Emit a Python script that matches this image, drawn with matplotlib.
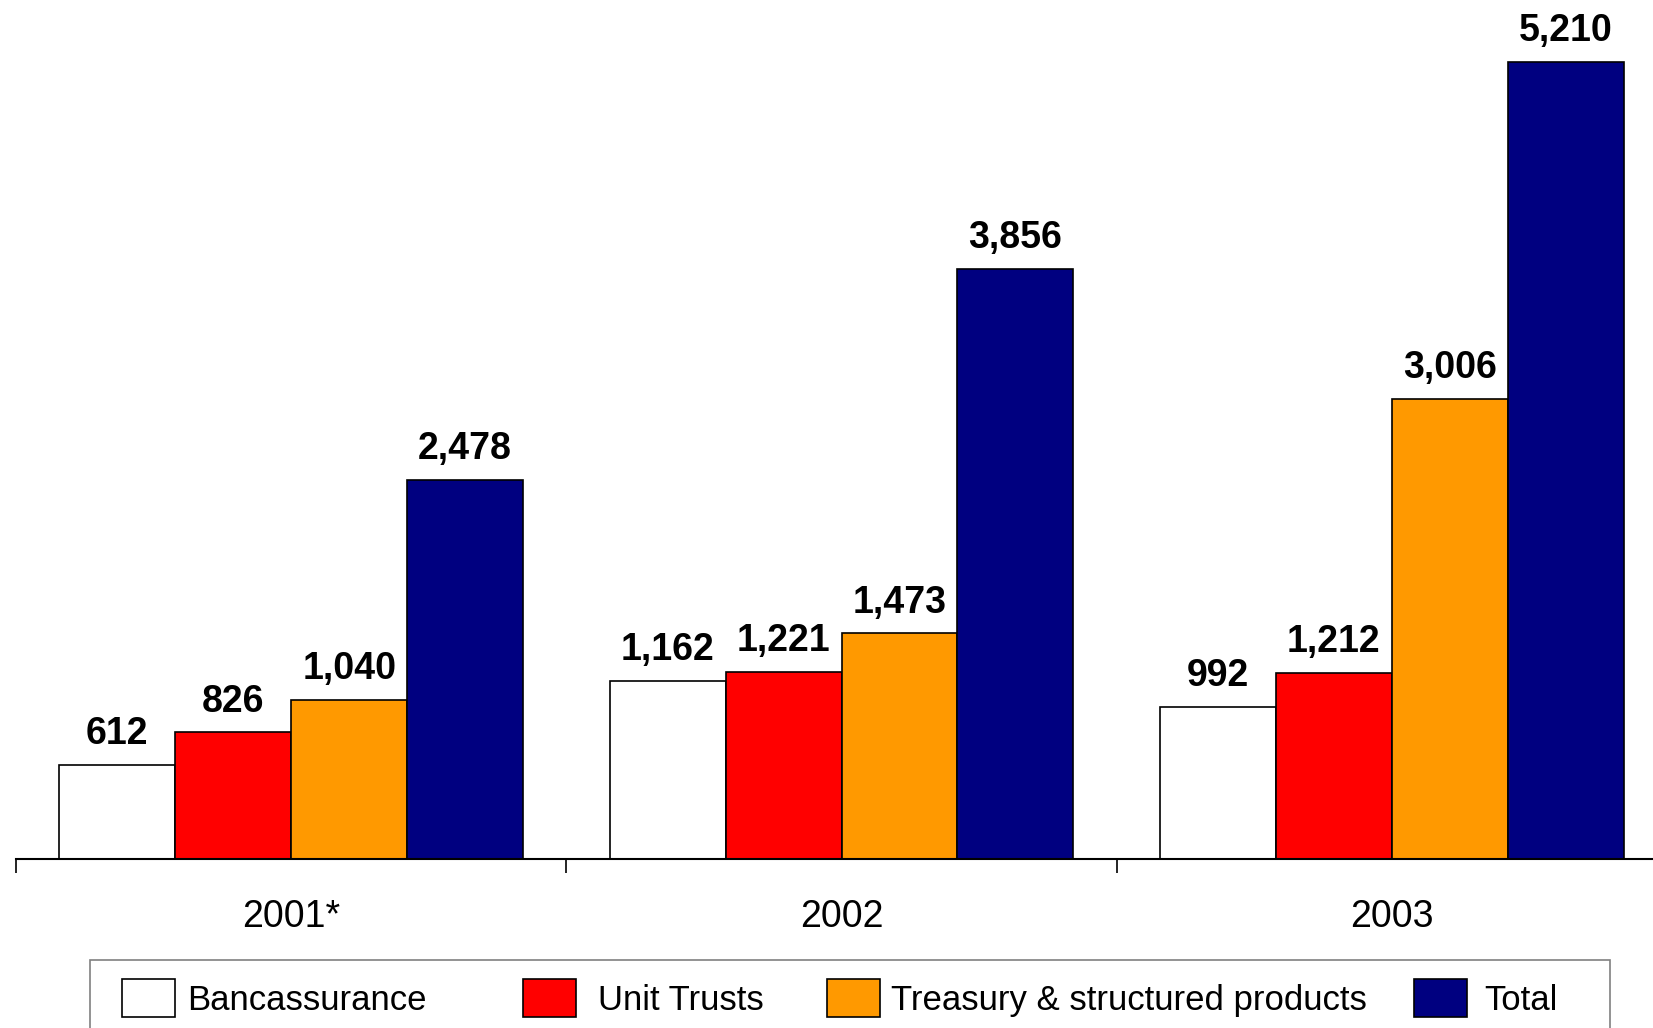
import matplotlib
matplotlib.use('Agg')
import matplotlib.pyplot as plt
import numpy as np
from matplotlib.patches import Rectangle

plt.rcParams['font.family'] = ['Liberation Sans', 'DejaVu Sans']

years = ['2001*', '2002', '2003']
series = ['Bancassurance', 'Unit Trusts', 'Treasury & structured products', 'Total']
bancassurance = [612, 1162, 992]
unit_trusts = [826, 1221, 1212]
treasury = [1040, 1473, 3006]
total = [2478, 3856, 5210]
colors = ['#FFFFFF', '#FF0000', '#FF9900', '#000080']

W, H = 1653, 1028
fig = plt.figure(figsize=(W / 100, H / 100), dpi=100)
ax = fig.add_axes([16 / W, (H - 858.7) / H, 1651 / W, 858.7 / H])
x = np.arange(len(years))
bw = 0.2107
values = [bancassurance, unit_trusts, treasury, total]
bar_handles = []
for i, (name, vals, c) in enumerate(zip(series, values, colors)):
    bars = ax.bar(x + (i - 1.5) * bw, vals, bw, color=c, edgecolor='black',
                  linewidth=1.2, label=name)
    bar_handles.append(bars)
    for b, v in zip(bars, vals):
        ax.annotate(f'{v:,}', (b.get_x() + b.get_width() / 2, v), xytext=(0, 15),
                    textcoords='offset points', ha='center', va='baseline',
                    fontsize=27, fontweight='bold')

ax.set_xlim(-0.5, 2.5)
ax.set_ylim(0, 5613)
for s in ['top', 'left', 'right']:
    ax.spines[s].set_visible(False)
ax.spines['bottom'].set_linewidth(1.5)
ax.set_yticks([])
ax.set_xticks([-0.5, 0.5, 1.5, 2.5])
ax.set_xticklabels([])
ax.tick_params(axis='x', which='major', length=10, width=1.2, direction='out')
ax.set_xticks(x, minor=True)
ax.set_xticklabels(years, minor=True, fontsize=27)
ax.tick_params(axis='x', which='minor', length=0, pad=29)

fs = 25
fspx = fs * 100 / 72
hl = 53 / fspx
handle_x = [122.3, 522.9, 826.5, 1413.7]
text_x = [187.6, 597.7, 890.8, 1484.3]
for h, name, hx, tx in zip(bar_handles, series, handle_x, text_x):
    pad = (tx - hx - 53) / fspx
    leg = fig.legend([h], [name], loc='upper left', bbox_to_anchor=(hx / W, 1 - 979 / H),
                     frameon=False, fontsize=fs, handlelength=hl, handleheight=1.307,
                     handletextpad=pad, borderpad=0, borderaxespad=0)

frame = Rectangle((89.6 / W, -0.05), (1610 - 89.6) / W, (1 - 960 / H) + 0.05,
                  transform=fig.transFigure, fill=False, edgecolor='#808080', lw=1.2)
fig.add_artist(frame)

fig.savefig('out.png', dpi=100)
